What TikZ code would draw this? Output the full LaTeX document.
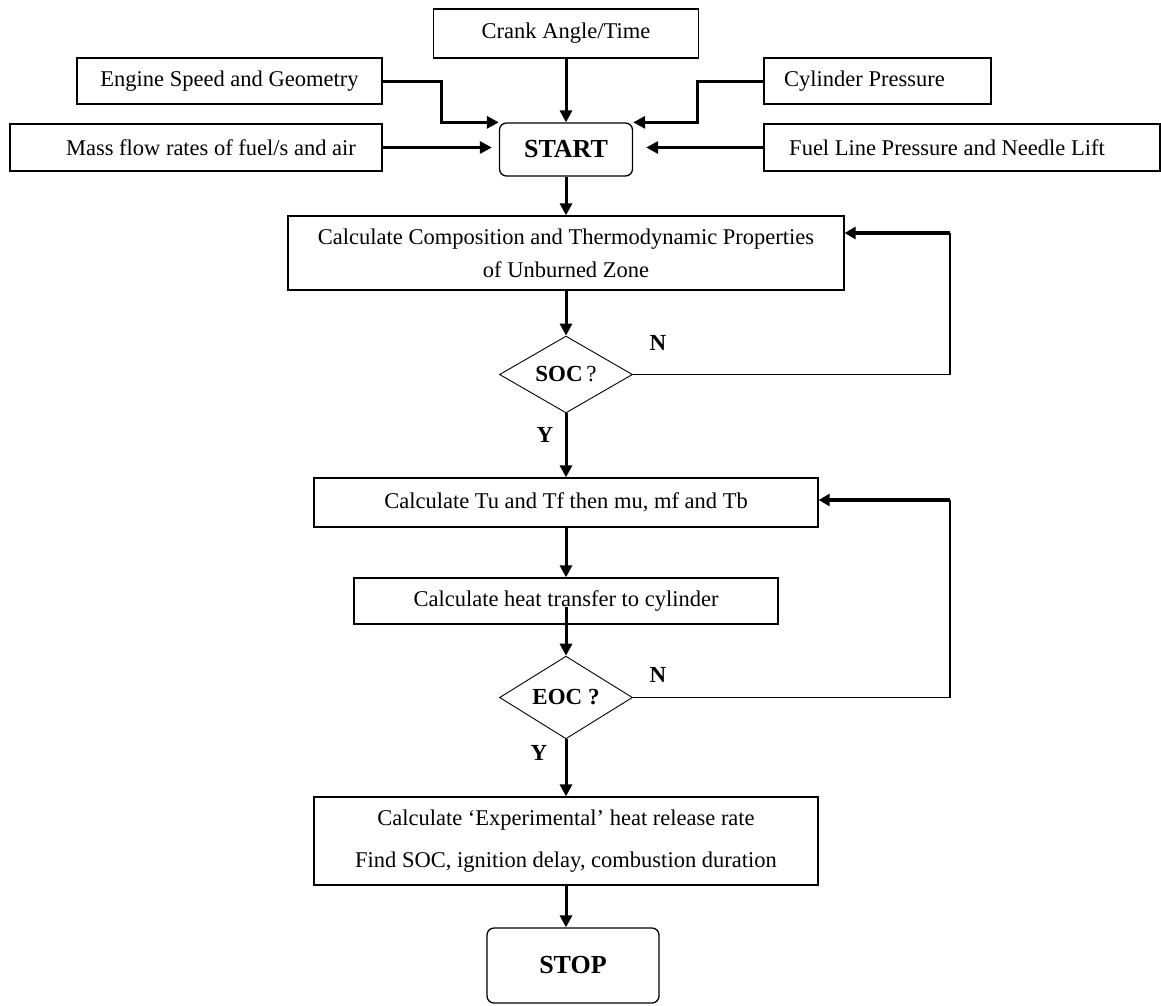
\documentclass[tikz,border=0pt]{standalone}
\usepackage{fontspec}
\setmainfont{Liberation Serif}
\usetikzlibrary{arrows.meta,shapes.geometric,calc}
\tikzset{
 box/.style={draw, line width=1.3pt, rectangle, inner sep=0pt, align=center, font=\fontsize{22.5}{27}\selectfont},
 term/.style={draw, line width=1.3pt, rectangle, rounded corners=7pt, inner sep=0pt, font=\fontsize{26}{30}\selectfont\bfseries},
 dec/.style={draw, diamond, line width=0.9pt, inner sep=0pt, minimum width=133pt, font=\fontsize{23}{27}\selectfont},
 flow/.style={line width=3pt, -{Triangle[length=12pt,width=12pt]}},
 back/.style={line width=1.5pt},
 backarr/.style={line width=4.5pt, -{Triangle[length=11pt,width=12pt]}},
 lab/.style={font=\fontsize{23}{27}\selectfont\bfseries, inner sep=0pt}
}
\begin{document}
\begin{tikzpicture}[x=1pt,y=-1pt]
\useasboundingbox (0,0) rectangle (1161,1005);
% input boxes
\node[box, minimum width=265pt, minimum height=49pt] (crank) at (566,33.5) {Crank Angle/Time};
\node[box, minimum width=305pt, minimum height=46pt] (engine) at (229.5,81) {Engine Speed and Geometry};
\node[box, minimum width=372pt, minimum height=47pt] (mass) at (196,147.5) {\hspace*{30pt}Mass flow rates of fuel/s and air};
\node[box, minimum width=227pt, minimum height=46pt] (cyl) at (877.5,81) {Cylinder Pressure\hspace*{26pt}};
\node[box, minimum width=396pt, minimum height=47pt] (fuel) at (962,147.5) {Fuel Line Pressure and Needle Lift\hspace*{30pt}};
\node[term, minimum width=133pt, minimum height=53pt] (start) at (566,149.5) {START};
% process
\node[box, minimum width=556pt, minimum height=74pt, font=\fontsize{22.5}{33}\selectfont] (calc1) at (566,253) {Calculate Composition and Thermodynamic Properties\\of Unburned Zone};
\node[dec, minimum height=75pt] (soc) at (566,374.5) {\textbf{SOC}\,?};
\node[box, minimum width=504pt, minimum height=49pt] (calc2) at (566,502.5) {Calculate Tu and Tf then mu, mf and Tb};
\node[box, minimum width=424pt, minimum height=46pt] (heat) at (566,601) {Calculate heat transfer to cylinder};
\node[dec, minimum height=77pt] (eoc) at (566,697.5) {\textbf{EOC ?}};
\node[box, minimum width=504pt, minimum height=88pt, font=\fontsize{22.5}{42}\selectfont] (calc3) at (566,841) {Calculate ‘Experimental’ heat release rate\\Find SOC, ignition delay, combustion duration};
\node[term, minimum width=172pt, minimum height=75pt] (stop) at (573,965.5) {STOP};
% labels
\node[lab] (n1) at (658,343) {N};
\node[lab] (y1) at (545,435) {Y};
\node[lab] (n2) at (658,675) {N};
\node[lab] (y2) at (539,753) {Y};
% connectors
\draw[flow] (crank.south) -- (start.north);
\draw[flow] (engine.east) -- ++(59,0) |- (start.north west);
\draw[flow] (cyl.west) -- ++(-66,0) |- (start.north east);
\draw[flow, shorten >=7pt] (mass.east) -- (mass.east -| start.west);
\draw[flow, shorten >=13pt] (fuel.west) -- (fuel.west -| start.east);
\draw[flow] (start.south) -- (calc1.north);
\draw[flow] (calc1.south) -- (soc.north);
\draw[flow] (soc.south) -- (calc2.north);
\draw[flow] (calc2.south) -- (heat.north);
\draw[flow] ([yshift=-6pt]heat.center) -- (eoc.north);
\draw[flow] (eoc.south) -- (calc3.north);
\draw[flow] (calc3.south) -- (calc3.south |- stop.north);
% feedback loops
\coordinate (l1) at (950,233);
\draw[back] (soc.east) -| (l1);
\draw[backarr] (l1) -- (l1 -| calc1.east);
\coordinate (l2) at (950,500);
\draw[back] (eoc.east) -| (l2);
\draw[backarr] (l2) -- (l2 -| calc2.east);
\end{tikzpicture}
\end{document}
